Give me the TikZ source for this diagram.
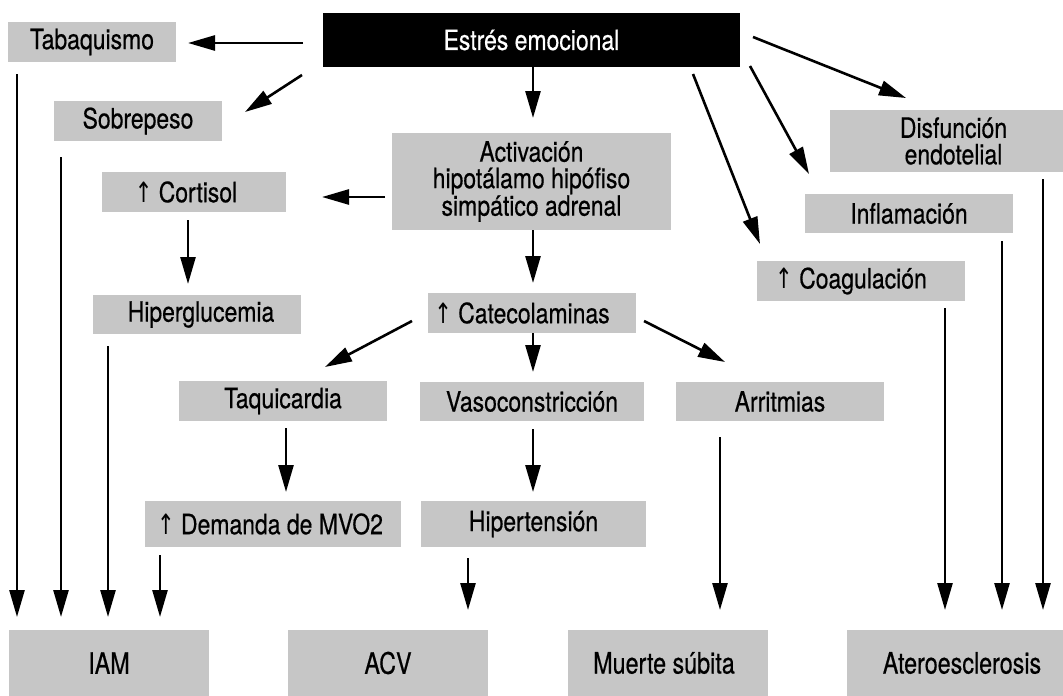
\documentclass[tikz,border=0pt]{standalone}
\usepackage{fontspec}
\setmainfont{TeX Gyre Heros}[FakeStretch=0.82,FakeBold=0.5]
\newfontfamily\bigfont{TeX Gyre Heros}[FakeStretch=0.79,FakeBold=0.5]
\newfontfamily\arrfont{DejaVu Sans}[FakeStretch=0.75]
\usetikzlibrary{arrows.meta}
\definecolor{boxgray}{RGB}{198,198,198}
\newcommand{\upar}{{\arrfont ↑}}
\tikzset{
  box/.style={fill=boxgray, inner sep=0pt, align=center, font=\fontsize{28}{26.5}\selectfont},
  endbox/.style={fill=boxgray, inner sep=0pt, align=center, minimum height=66, font=\bigfont\fontsize{29.5}{29.5}\selectfont},
  blackbox/.style={fill=black, text=white, inner sep=0pt, align=center, font=\fontsize{28}{26.5}\selectfont},
  arr/.style={line width=2.6pt, -{Triangle[length=27pt,width=15pt]}}
}
\begin{document}
\begin{tikzpicture}[x=1pt,y=-1pt]
\useasboundingbox (0,0) rectangle (1063,696);
% boxes
\node[blackbox, minimum width=417, minimum height=54] (estres) at (531.5,40) {Estrés emocional};
\node[box, minimum width=168, minimum height=40] (tab) at (92,42) {Tabaquismo};
\node[box, minimum width=168, minimum height=40] (sobre) at (138,121) {Sobrepeso};
\node[box, minimum width=184, minimum height=40] (cort) at (194,192) {\upar{} Cortisol\hspace*{16pt}};
\node[box, minimum width=279, minimum height=97] (activ) at (531.5,181.5) {Activación\\hipotálamo hipófiso\\simpático adrenal};
\node[box, minimum width=233, minimum height=62] (disf) at (946.5,141) {\hspace*{14pt}Disfunción\\\hspace*{14pt}endotelial};
\node[box, minimum width=208, minimum height=39] (infl) at (909,213.5) {Inflamación};
\node[box, minimum width=208, minimum height=40] (coag) at (861,281) {\upar{} Coagulación\hspace*{20pt}};
\node[box, minimum width=208, minimum height=39] (hiper) at (197,314.5) {\hspace*{8pt}Hiperglucemia};
\node[box, minimum width=208, minimum height=40] (cate) at (532,313) {\upar{} Catecolaminas\hspace*{20pt}};
\node[box, minimum width=208, minimum height=40] (taqui) at (283,401) {Taquicardia};
\node[box, minimum width=224, minimum height=39] (vaso) at (532,401.5) {Vasoconstricción};
\node[box, minimum width=208, minimum height=39] (arrit) at (780,401.5) {Arritmias};
\node[box, minimum width=256, minimum height=46] (deman) at (273,524) {\upar{} Demanda de MVO2\hspace*{6pt}};
\node[box, minimum width=225, minimum height=46] (hipert) at (533.5,524) {Hipertensión};
\node[endbox, minimum width=200] (iam) at (109,663) {IAM};
\node[endbox, minimum width=200] (acv) at (388,663) {ACV};
\node[endbox, minimum width=200] (muerte) at (668,663) {Muerte súbita\hspace*{8pt}};
\node[endbox, minimum width=216] (atero) at (955,663) {\hspace*{14pt}Ateroesclerosis};
% connector ends
\path (303,43) coordinate (a1) (188,43) coordinate (b1)
      (302,75) coordinate (a2) (245,112) coordinate (b2)
      (533,67) coordinate (a3) (533,118) coordinate (b3)
      (385,197) coordinate (a4) (322,197) coordinate (b4)
      (753,37) coordinate (a5) (906,98) coordinate (b5)
      (750,66) coordinate (a6) (809,174) coordinate (b6)
      (693,74) coordinate (a7) (760,244) coordinate (b7)
      (533,230) coordinate (a8) (533,283) coordinate (b8)
      (188,220) coordinate (a9) (188,284) coordinate (b9)
      (412,321) coordinate (a10) (325,367) coordinate (b10)
      (533,333) coordinate (a11) (533,372) coordinate (b11)
      (644,321) coordinate (a12) (725,362) coordinate (b12)
      (286,428) coordinate (a13) (286,492) coordinate (b13)
      (533,429) coordinate (a14) (533,492) coordinate (b14)
      (720,437) coordinate (a15) (720,610) coordinate (b15)
      (160,555) coordinate (a16) (160,617) coordinate (b16)
      (468,558) coordinate (a17) (468,610) coordinate (b17)
      (17,74) coordinate (a18) (17,617) coordinate (b18)
      (61,157) coordinate (a19) (61,617) coordinate (b19)
      (108,346) coordinate (a20) (108,617) coordinate (b20)
      (945,308) coordinate (a21) (945,610) coordinate (b21)
      (1002,241) coordinate (a22) (1002,610) coordinate (b22)
      (1043,179) coordinate (a23) (1043,610) coordinate (b23);
\foreach \i in {1,...,23} { \draw[arr] (a\i) -- (b\i); }
\end{tikzpicture}
\end{document}
